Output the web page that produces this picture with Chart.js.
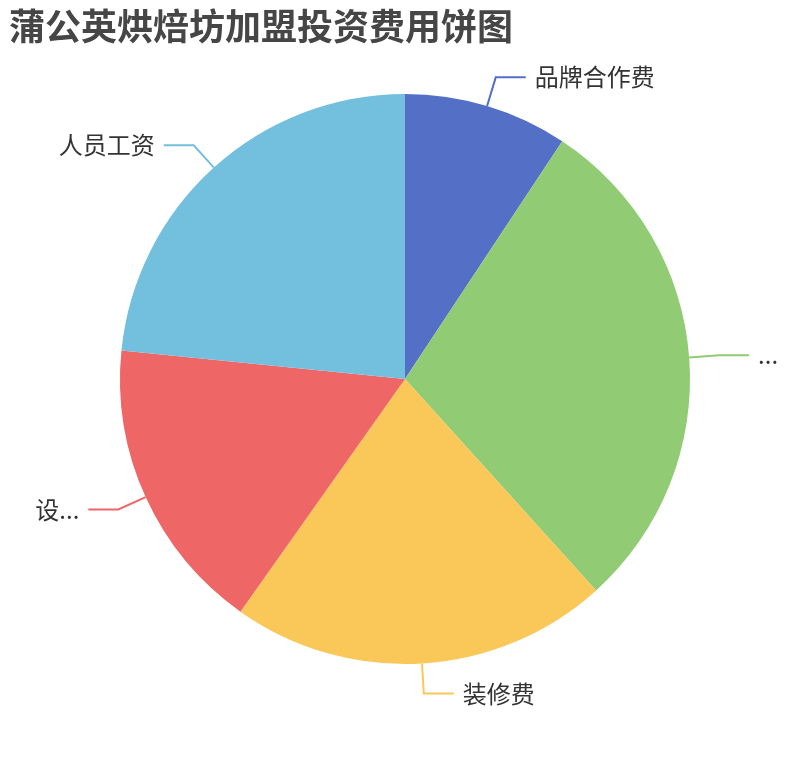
<!DOCTYPE html>
<html lang="zh">
<head>
<meta charset="utf-8">
<title>蒲公英烘焙坊加盟投资费用饼图</title>
<script src="https://cdn.jsdelivr.net/npm/chart.js@4/dist/chart.umd.min.js"></script>
<style>
  html, body { margin: 0; padding: 0; background: #fff; }
  #wrap { width: 810px; height: 760px; }
</style>
</head>
<body>
<div id="wrap"><canvas id="pie" width="810" height="760"></canvas></div>
<script>
// Data
const categories = ["品牌合作费", "店面租金", "装修费", "设备费", "人员工资"];
const shownLabels = ["品牌合作费", "...", "装修费", "设...", "人员工资"];
const values = [9.3, 29.0, 21.5, 16.8, 23.4];
const colors = ["#5470c6", "#91cc75", "#fac858", "#ee6666", "#73c0de"];

const CJK = '"Noto Sans CJK SC", "Noto Sans", sans-serif';

// outer labels with two-part leader lines
const outerLabels = {
  id: "outerLabels",
  afterDatasetsDraw(chart) {
    const ctx = chart.ctx;
    const meta = chart.getDatasetMeta(0);
    ctx.save();
    meta.data.forEach((arc, i) => {
      const a = (arc.startAngle + arc.endAngle) / 2;
      const r = arc.outerRadius;
      const cx = Math.cos(a), cy = Math.sin(a);
      const x1 = arc.x + r * cx, y1 = arc.y + r * cy;
      const x2 = arc.x + (r + 30) * cx, y2 = arc.y + (r + 30) * cy;
      const dir = cx >= 0 ? 1 : -1;
      const x3 = x2 + dir * 30;
      ctx.strokeStyle = colors[i];
      ctx.lineWidth = 2;
      ctx.beginPath();
      ctx.moveTo(x1, y1);
      ctx.lineTo(x2, y2);
      ctx.lineTo(x3, y2);
      ctx.stroke();
      ctx.fillStyle = "#333";
      ctx.font = "24px " + CJK;
      ctx.textBaseline = "middle";
      ctx.textAlign = dir > 0 ? "left" : "right";
      ctx.fillText(shownLabels[i], x3 + dir * 9, y2);
    });
    // title
    ctx.fillStyle = "#464646";
    ctx.font = "bold 36px " + CJK;
    ctx.textAlign = "left";
    ctx.textBaseline = "middle";
    ctx.fillText("蒲公英烘焙坊加盟投资费用饼图", 9, 26);
    ctx.restore();
  }
};

new Chart(document.getElementById("pie"), {
  type: "pie",
  data: {
    labels: categories,
    datasets: [{
      data: values,
      backgroundColor: colors,
      borderWidth: 0,
      hoverOffset: 0,
      offset: 0
    }]
  },
  options: {
    responsive: false,
    animation: false,
    layout: { padding: { top: 94, bottom: 96, left: 0, right: 0 } },
    plugins: {
      legend: { display: false },
      tooltip: { enabled: false },
      title: { display: false }
    }
  },
  plugins: [outerLabels]
});
</script>
</body>
</html>
